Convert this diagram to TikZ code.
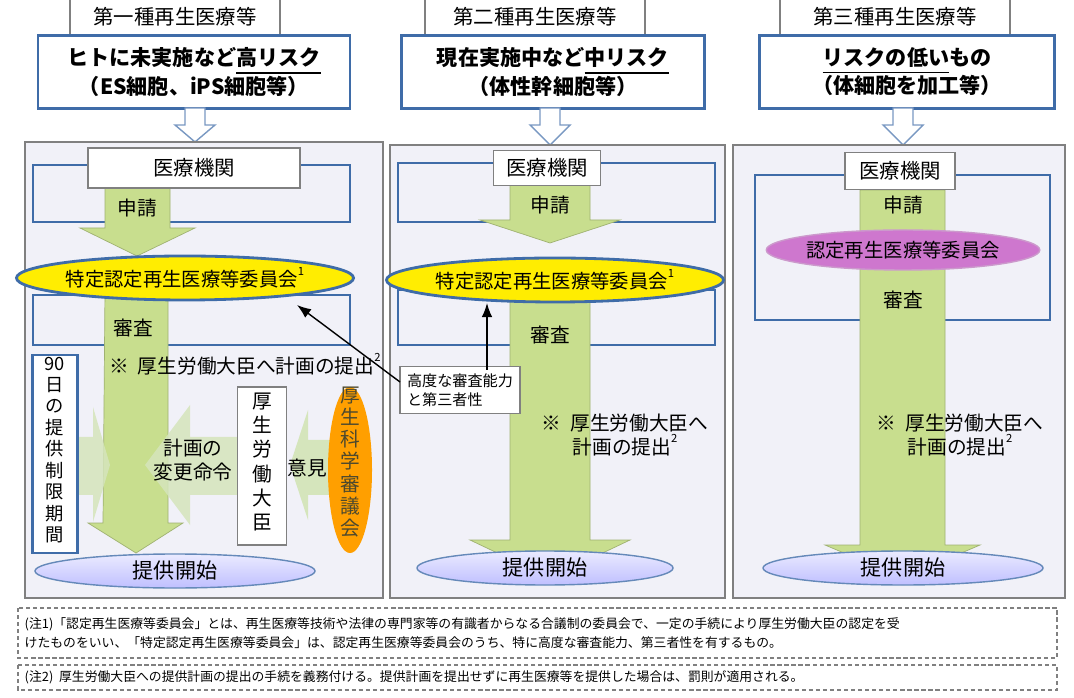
\documentclass[tikz,border=0pt]{standalone}
\usepackage{fontspec}
\setmainfont{Noto Sans CJK JP}
\usetikzlibrary{shapes.geometric,arrows.meta}
\definecolor{gr}{HTML}{C8DE8E}
\definecolor{lgr}{HTML}{D5E5BC}
\definecolor{bl}{HTML}{3F6CA8}
\definecolor{pnl}{HTML}{F1F1F8}
\newcommand{\sps}[1]{\raisebox{1.1ex}{\fontsize{3.2}{3.2}\selectfont #1}}
\tikzset{
 tab/.style={draw=gray,fill=white,minimum height=35*0.01cm,inner sep=0pt,font=\fontsize{5.8}{6.5}\selectfont},
 head/.style={draw=bl,thick,fill=white,align=center,inner sep=0pt,font=\fontsize{6}{8}\selectfont\bfseries},
 panel/.style={draw=gray,fill=pnl},
 org/.style={draw=gray,fill=white,inner sep=0pt,font=\fontsize{5.8}{6.5}\selectfont},
 outl/.style={draw=bl,thick},
 lbl/.style={font=\fontsize{5.6}{6.6}\selectfont,inner sep=0pt},
 small/.style={font=\fontsize{4.3}{5.3}\selectfont,inner sep=0pt},
 yel/.style={ellipse,draw=bl,thick,fill=yellow!95!orange,inner sep=0pt,font=\fontsize{5.5}{6.5}\selectfont},
 start/.style={ellipse,draw=bl!80,inner sep=0pt,top color=blue!8,bottom color=blue!25,font=\fontsize{6}{7}\selectfont},
 note/.style={draw=gray,dash pattern=on 1.2pt off 0.8pt,fill=white},
 notetxt/.style={font=\fontsize{3.65}{5.6}\selectfont,inner sep=0pt,anchor=west,align=left},
 hol/.style={draw=bl!70,fill=white},
 garr/.style={fill=gr,draw=gr!80!black,line width=0.2pt},
 larr/.style={fill=lgr},
}
\begin{document}
\begin{tikzpicture}[x=0.01cm,y=-0.01cm]
\useasboundingbox (0,0) rectangle (1074,698);
% ---------- panel 1 ----------
\node[tab,minimum width=210*0.01cm] (t1) at (175,17) {第一種再生医療等};
\node[head,minimum width=312*0.01cm,minimum height=73*0.01cm] (h1) at (194,72) {ヒトに未実施など\underline{高リスク}\\（ES細胞、iPS細胞等）};
\draw[hol] (185,108) -- (205,108) -- (205,125) -- (215,125) -- (195,142) -- (175,125) -- (185,125) -- cycle;
\draw[panel] (25,142) rectangle (383,598);
\draw[outl] (33,165) rectangle (350,222);
\draw[garr] (105,188) -- (170,188) -- (170,228) -- (195,228) -- (137,256) -- (80,228) -- (105,228) -- cycle;
\node[org,minimum width=212*0.01cm,minimum height=40*0.01cm] (m1) at (194,168) {医療機関};
\node[lbl] (s1) at (137,208) {申請};
\draw[outl] (33,295) rectangle (350,345);
\draw[garr] (105,290) -- (168,290) -- (168,523) -- (183,523) -- (136,553) -- (88,523) -- (103,523) -- cycle;
\node[yel,minimum width=296*0.01cm,minimum height=44*0.01cm] (e1) at (185,278) {特定認定再生医療等委員会\sps{1}};
\node[lbl] (r1) at (133,328) {審査};
\node[lbl] (n1) at (245,364) {※\ \ 厚生労働大臣へ計画の提出\sps{2}};
% side arrows
\draw[larr,draw=none,opacity=0.85] (78,437) -- (93,437) -- (93,407) -- (110,465) -- (93,522) -- (93,495) -- (78,495) -- cycle;
\draw[larr,draw=none,opacity=0.85] (240,437) -- (190,437) -- (190,405) -- (145,465) -- (190,525) -- (190,495) -- (240,495) -- cycle;
\draw[larr,draw=none] (332,440) -- (308,440) -- (308,410) -- (290,465) -- (308,520) -- (308,495) -- (332,495) -- cycle;
\node[lbl,align=center] (c1) at (193,460) {計画の\\変更命令};
\node[lbl] (o1) at (307,468) {意見};
\node[draw=bl,thick,fill=white,minimum width=45*0.01cm,minimum height=198*0.01cm,inner sep=0pt] (d1) at (55,454) {};
\node[lbl,align=center,font=\fontsize{5.2}{6.1}\selectfont] at (55,450) {90\\日\\の\\提\\供\\制\\限\\期\\間};
\node[org,minimum width=49*0.01cm,minimum height=158*0.01cm] (k1) at (262,466) {};
\node[lbl,align=center,font=\fontsize{5.6}{6.9}\selectfont] at (262,462) {厚\\生\\労\\働\\大\\臣};
\node[ellipse,fill=orange!75!yellow,minimum width=44*0.01cm,minimum height=166*0.01cm,inner sep=0pt] (g1) at (350,470) {};
\node[lbl,align=center,font=\fontsize{5.6}{6.3}\selectfont,text=black!60!olive] at (350,462) {厚\\生\\科\\学\\審\\議\\会};
\node[start,minimum width=280*0.01cm,minimum height=34*0.01cm] (p1) at (175,571) {提供開始};
% ---------- panel 2 ----------
\node[tab,minimum width=220*0.01cm] (t2) at (535,17) {第二種再生医療等};
\node[head,minimum width=303*0.01cm,minimum height=73*0.01cm] (h2) at (553,72) {現在実施中など\underline{中リスク}\\（体性幹細胞等）};
\draw[hol] (540,108) -- (560,108) -- (560,125) -- (570,125) -- (550,145) -- (530,125) -- (540,125) -- cycle;
\draw[panel] (390,145) rectangle (725,598);
\draw[outl] (398,163) rectangle (715,222);
\draw[garr] (510,185) -- (590,185) -- (590,220) -- (620,220) -- (550,243) -- (480,220) -- (510,220) -- cycle;
\node[org,minimum width=107*0.01cm,minimum height=35*0.01cm] (m2) at (547,168) {医療機関};
\node[lbl] (s2) at (550,205) {申請};
\draw[outl] (398,290) rectangle (715,345);
\draw[garr] (510,300) -- (590,300) -- (590,540) -- (630,540) -- (550,578) -- (470,540) -- (510,540) -- cycle;
\node[yel,minimum width=296*0.01cm,minimum height=44*0.01cm] (e2) at (555,280) {特定認定再生医療等委員会\sps{1}};
\node[lbl] (r2) at (550,335) {審査};
\node[draw=gray,fill=white,small,align=left,minimum width=120*0.01cm,minimum height=40*0.01cm,inner sep=2pt] (q2) at (460,390) {高度な審査能力\\と第三者性};
\coordinate (qa) at (487,370);
\coordinate (qb) at (400,382);
\coordinate (ea) at (487,303);
\coordinate (eb) at (297,305);
\draw[-{Latex[length=4pt]},thin] (qa) -- (ea);
\draw[-{Latex[length=4pt]},thin] (qb) -- (eb);
\node[lbl,align=center] (n2) at (625,435) {※\ \ 厚生労働大臣へ\\計画の提出\sps{2}};
\node[start,minimum width=256*0.01cm,minimum height=34*0.01cm] (p2) at (545,568) {提供開始};
% ---------- panel 3 ----------
\node[tab,minimum width=230*0.01cm] (t3) at (895,17) {第三種再生医療等};
\node[head,minimum width=295*0.01cm,minimum height=73*0.01cm] (h3) at (907,72) {\underline{リスクの低い}もの\\（体細胞を加工等）};
\draw[hol] (893,108) -- (913,108) -- (913,125) -- (923,125) -- (903,145) -- (883,125) -- (893,125) -- cycle;
\draw[panel] (733,145) rectangle (1065,598);
\draw[outl] (755,175) rectangle (1050,320);
\draw[garr] (860,190) -- (945,190) -- (945,545) -- (980,545) -- (903,578) -- (825,545) -- (860,545) -- cycle;
\node[org,minimum width=110*0.01cm,minimum height=37*0.01cm] (m3) at (900,171) {医療機関};
\node[lbl] (s3) at (903,205) {申請};
\node[ellipse,fill=violet!45!white!85!magenta,draw=violet!40,minimum width=270*0.01cm,minimum height=40*0.01cm,inner sep=0pt,font=\fontsize{5.5}{6.5}\selectfont] (e3) at (903,250) {認定再生医療等委員会};
\node[lbl] (r3) at (903,300) {審査};
\node[lbl,align=center] (n3) at (960,435) {※\ \ 厚生労働大臣へ\\計画の提出\sps{2}};
\node[start,minimum width=280*0.01cm,minimum height=34*0.01cm] (p3) at (903,568) {提供開始};
% ---------- notes ----------
\draw[note] (18,608) rectangle (1057,658);
\node[notetxt] (nt1) at (24,633) {(注1)「認定再生医療等委員会」とは、再生医療等技術や法律の専門家等の有識者からなる合議制の委員会で、一定の手続により厚生労働大臣の認定を受\\けたものをいい、「特定認定再生医療等委員会」は、認定再生医療等委員会のうち、特に高度な審査能力、第三者性を有するもの。};
\draw[note] (18,665) rectangle (1057,690);
\node[notetxt] (nt2) at (24,677) {(注2)\ \ 厚生労働大臣への提供計画の提出の手続を義務付ける。提供計画を提出せずに再生医療等を提供した場合は、罰則が適用される。};
\end{tikzpicture}
\end{document}
